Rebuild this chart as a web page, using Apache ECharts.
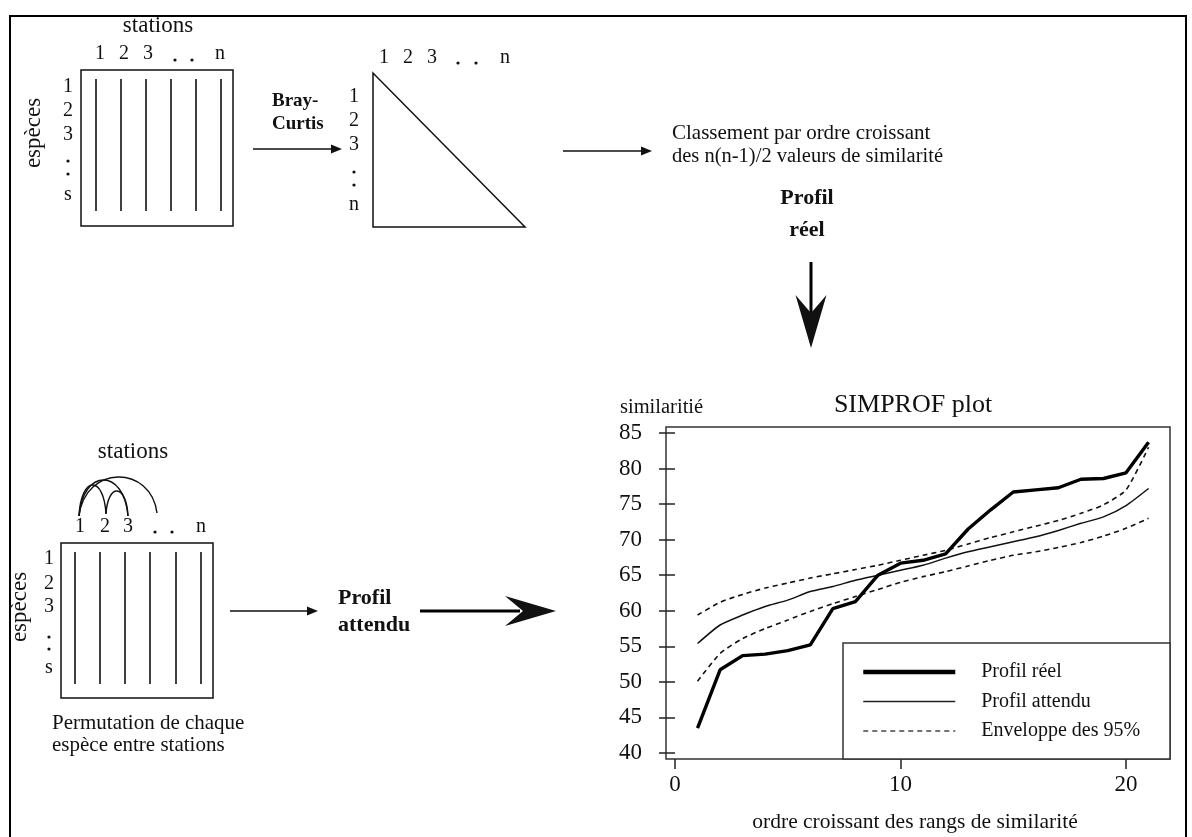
<!DOCTYPE html>
<html><head><meta charset="utf-8">
<script src="https://cdn.jsdelivr.net/npm/echarts@6/dist/echarts.min.js"></script>
<style>html,body{margin:0;padding:0;background:#fff}#c{width:1192px;height:837px}</style>
</head><body><div id="c"></div>
<script>
// ---- data ----
const ranks = [1,2,3,4,5,6,7,8,9,10,11,12,13,14,15,16,17,18,19,20,21];
const profilReel    = [43.5,51.7,53.7,53.9,54.4,55.2,60.3,61.3,65.0,66.7,67.1,68.0,71.5,74.2,76.7,77.0,77.3,78.5,78.6,79.4,83.7];
const profilAttendu = [55.4,58.0,59.4,60.6,61.5,62.7,63.4,64.3,65.0,65.7,66.4,67.4,68.3,69.0,69.7,70.4,71.3,72.3,73.2,74.8,77.2];
const enveloppeHaut = [59.4,61.2,62.3,63.2,63.9,64.6,65.2,65.8,66.4,67.1,67.8,68.5,69.4,70.3,71.1,71.9,72.7,73.7,74.9,77.0,83.0];
const enveloppeBas  = [50.1,54.0,56.1,57.5,58.7,59.9,61.0,62.0,63.0,64.0,64.8,65.5,66.3,67.1,67.8,68.3,68.9,69.6,70.5,71.6,73.0];
const yTickValues = [40,45,50,55,60,65,70,75,80,85];
const xTickValues = [0,10,20];
const seriesNames = ['Profil réel','Profil attendu','Enveloppe des 95%'];

const FF = '"Liberation Serif", "DejaVu Serif", serif';
const INK = '#111';

function txt(s, x, y, size, opt) {
  opt = opt || {};
  const a = opt.align || 'center';
  return {
    type: 'text', x: x, y: y, rotation: opt.rot || 0, z: 10,
    style: {
      text: s, fill: INK,
      font: (opt.bold ? 'bold ' : '') + size + 'px ' + FF,
      align: a, textAlign: a, verticalAlign: 'middle', textVerticalAlign: 'middle'
    }
  };
}
function ln(x1, y1, x2, y2, w, color) {
  return { type: 'line', z: 10, shape: {x1, y1, x2, y2}, style: {stroke: color || INK, lineWidth: w || 1.3} };
}
function dot(x, y) {
  return { type: 'circle', z: 10, shape: {cx: x, cy: y, r: 1.6}, style: {fill: INK} };
}
function poly(points) {
  return { type: 'polygon', z: 10, shape: {points}, style: {fill: INK} };
}
function rect(x, y, w, h, lw, color) {
  return { type: 'rect', z: 10, shape: {x, y, width: w, height: h}, style: {fill: 'none', stroke: color || INK, lineWidth: lw || 1.5} };
}
function arc(x1, y1, x2, y2, peak) {
  const c = (8 * peak - y1 - y2) / 6;
  const w = x2 - x1;
  return { type: 'bezierCurve', z: 10,
    shape: {x1, y1, x2, y2, cpx1: x1 + w * 0.08, cpy1: c, cpx2: x2 - w * 0.08, cpy2: c},
    style: {stroke: INK, lineWidth: 1.4, fill: 'none'} };
}
function thinArrowRight(x1, x2, y) {
  return [ln(x1, y, x2 - 6, y, 1.3), poly([[x2, y], [x2 - 11, y - 4.5], [x2 - 11, y + 4.5]])];
}

const g = [];
// outer frame
g.push(rect(10, 16, 1176, 840, 2, '#000'));

// ---- top-left matrix ----
g.push(txt('stations', 158, 26, 23));
[[100,'1'],[124,'2'],[148,'3'],[220,'n']].forEach(p => g.push(txt(p[1], p[0], 54, 20)));
g.push(dot(175, 60), dot(192, 60));
[[87,'1'],[111,'2'],[135,'3'],[195,'s']].forEach(p => g.push(txt(p[1], 68, p[0], 20)));
g.push(dot(68, 161), dot(68, 174));
g.push(txt('espèces', 34, 133, 23, {rot: Math.PI / 2}));
g.push(rect(81, 70, 152, 156, 1.5));
[96,121,146,171,196,221].forEach(x => g.push(ln(x, 79, x, 211, 1.6)));

// Bray-Curtis arrow
g.push(txt('Bray-', 272, 101, 19, {bold: true, align: 'left'}));
g.push(txt('Curtis', 272, 124, 19, {bold: true, align: 'left'}));
g.push(...thinArrowRight(253, 342, 149));

// triangle
g.push({ type: 'polygon', z: 10, shape: {points: [[373,73],[373,227],[525,227]]}, style: {fill: 'none', stroke: INK, lineWidth: 1.5} });
[[384,'1'],[408,'2'],[432,'3'],[505,'n']].forEach(p => g.push(txt(p[1], p[0], 58, 20)));
g.push(dot(458, 63), dot(476, 63));
[[97,'1'],[121,'2'],[145,'3'],[205,'n']].forEach(p => g.push(txt(p[1], 354, p[0], 20)));
g.push(dot(354, 172), dot(354, 185));

// ranking arrow and text
g.push(...thinArrowRight(563, 652, 151));
g.push(txt('Classement par ordre croissant', 672, 133, 21, {align: 'left'}));
g.push(txt('des n(n-1)/2 valeurs de similarité', 672, 157, 20.5, {align: 'left'}));
g.push(txt('Profil', 807, 198, 22, {bold: true}));
g.push(txt('réel', 807, 230, 22, {bold: true}));
// big down arrow
g.push(ln(811, 262, 811, 318, 3, '#000'));
g.push(poly([[811, 348], [795.5, 295], [811, 313], [826.5, 295]]));

// ---- bottom-left matrix ----
g.push(txt('stations', 133, 452, 23));
g.push(arc(79, 516, 106, 514, 485));
g.push(arc(79, 516, 128, 516, 480));
g.push(arc(106, 514, 128, 516, 491));
g.push(arc(79, 516, 157, 513, 477));
[[80,'1'],[105,'2'],[128,'3'],[201,'n']].forEach(p => g.push(txt(p[1], p[0], 527, 20)));
g.push(dot(155, 532), dot(172, 532));
[[559,'1'],[584,'2'],[607,'3'],[668,'s']].forEach(p => g.push(txt(p[1], 49, p[0], 20)));
g.push(dot(49, 637), dot(49, 649));
g.push(txt('espèces', 20, 607, 23, {rot: Math.PI / 2}));
g.push(rect(61, 543, 152, 155, 1.5));
[75,100,125,150,176,201].forEach(x => g.push(ln(x, 552, x, 684, 1.6)));
g.push(txt('Permutation de chaque', 52, 723, 21, {align: 'left'}));
g.push(txt('espèce entre stations', 52, 745, 21, {align: 'left'}));

// expected-profile arrows
g.push(...thinArrowRight(230, 318, 611));
g.push(txt('Profil', 338, 598, 22, {bold: true, align: 'left'}));
g.push(txt('attendu', 338, 625, 22, {bold: true, align: 'left'}));
g.push(ln(420, 611, 520, 611, 3, '#000'));
g.push(poly([[556, 611], [505, 596], [523, 611], [505, 626]]));

// ---- SIMPROF plot texts ----
g.push(txt('similaritié', 620, 408, 20.5, {align: 'left'}));
g.push(txt('SIMPROF plot', 913, 405, 26));
g.push(txt('ordre croissant des rangs de similarité', 915, 822, 21.5));
// legend frame
g.push({ type: 'rect', z: 3, shape: {x: 843, y: 643, width: 327, height: 116}, style: {fill: '#fff', stroke: '#333', lineWidth: 1.5} });

const pairs = arr => ranks.map((r, i) => [r, arr[i]]);

const option = {
  animation: false,
  backgroundColor: '#fff',
  graphic: g,
  grid: { left: 666, top: 427, right: 22, bottom: 78, show: true, borderColor: '#333', borderWidth: 1.5, backgroundColor: 'transparent' },
  xAxis: {
    type: 'value', min: -0.399, max: 21.95,
    axisLine: { show: false },
    splitLine: { show: false },
    axisTick: { show: true, customValues: xTickValues, length: 10, lineStyle: { color: '#222', width: 1.5 } },
    axisLabel: { customValues: xTickValues, fontFamily: FF, fontSize: 23, color: INK, margin: 14 }
  },
  yAxis: {
    type: 'value', min: 39.156, max: 85.844,
    axisLine: { show: false },
    splitLine: { show: false },
    axisTick: { show: true, customValues: yTickValues, length: 16, lineStyle: { color: '#222', width: 1.5 } },
    axisLabel: { customValues: yTickValues, fontFamily: FF, fontSize: 23, color: INK, margin: 24 }
  },
  legend: {
    data: [
      { name: seriesNames[0], lineStyle: { width: 4.5, color: '#000' } },
      { name: seriesNames[1], lineStyle: { width: 1.5, color: '#222' } },
      { name: seriesNames[2], lineStyle: { width: 1.5, color: '#444', type: [5, 4] } }
    ],
    orient: 'vertical', left: 861, top: 662, z: 20, padding: 0,
    itemWidth: 92, itemHeight: 14, itemGap: 9.5, selectedMode: false,
    itemStyle: { color: 'transparent', opacity: 0, borderWidth: 0 },
    textStyle: { fontFamily: FF, fontSize: 20, color: INK, padding: [0, 0, 0, 21] }
  },
  series: [
    { name: seriesNames[0], type: 'line', data: pairs(profilReel), symbol: 'none', z: 6,
      lineStyle: { color: '#000', width: 3.4 }, itemStyle: { color: '#000' } },
    { name: seriesNames[1], type: 'line', data: pairs(profilAttendu), symbol: 'none', z: 5, smooth: 0.2,
      lineStyle: { color: '#111', width: 1.5 }, itemStyle: { color: '#111' } },
    { name: seriesNames[2], type: 'line', data: pairs(enveloppeHaut), symbol: 'none', z: 5, smooth: 0.2,
      lineStyle: { color: '#111', width: 1.6, type: [5, 4] }, itemStyle: { color: '#111' } },
    { name: seriesNames[2], type: 'line', data: pairs(enveloppeBas), symbol: 'none', z: 5, smooth: 0.2,
      lineStyle: { color: '#111', width: 1.6, type: [5, 4] }, itemStyle: { color: '#111' } }
  ]
};
const chart = echarts.init(document.getElementById('c'), null, { renderer: 'canvas' });
chart.setOption(option);
</script></body></html>
